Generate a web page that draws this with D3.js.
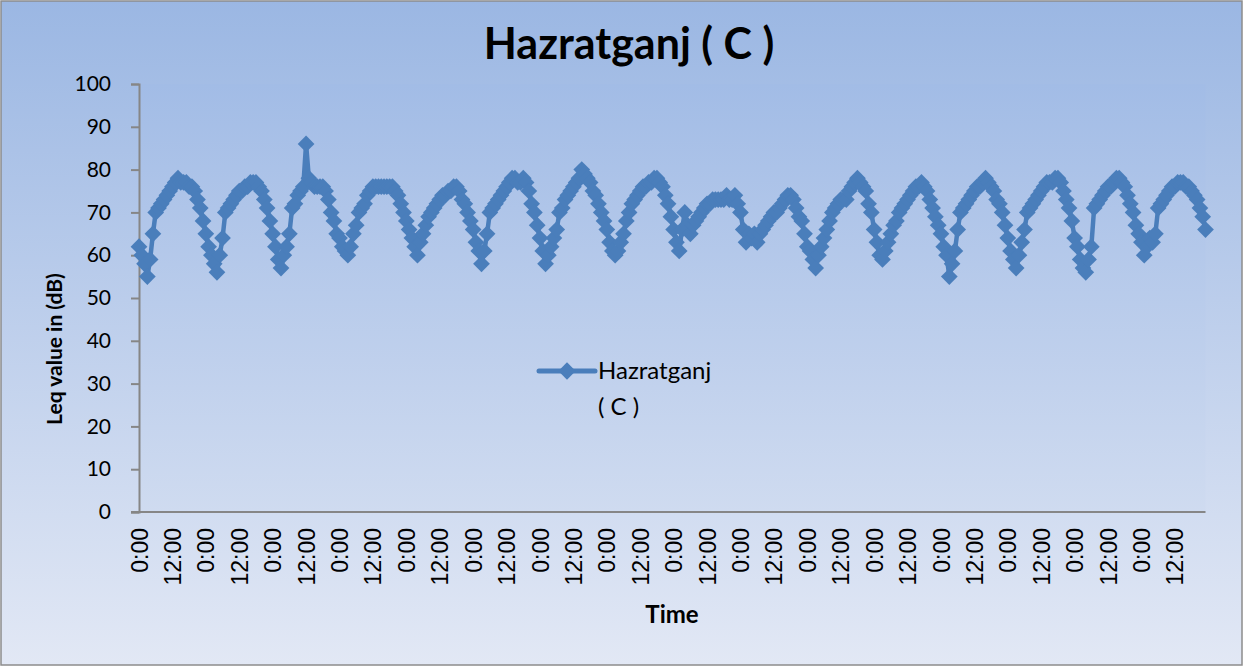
<!DOCTYPE html>
<html>
<head>
<meta charset="utf-8">
<script src="https://cdn.jsdelivr.net/npm/d3@7"></script>
<style>
  html, body { margin: 0; padding: 0; background: #ffffff; }
  svg { display: block; }
</style>
</head>
<body>
<div id="chart"></div>
<script>
/********/
/* data */
/********/

const chartTitle = "Hazratganj ( C )";
const seriesName = "Hazratganj ( C )";
const yTitle = "Leq value in (dB)";
const xTitle = "Time";
const yTicks = [0, 10, 20, 30, 40, 50, 60, 70, 80, 90, 100];
const dayCount = 16;
const hoursPerDay = 24;
const labelEvery = 12;

// hourly Leq readings, one row per day, starting 0:00
const leqValues = [
  62, 60, 58, 55, 59, 65, 70, 71, 72, 73, 74, 75, 76, 77, 78, 77, 77, 77, 76, 76, 75, 73, 71, 68,
  65, 62, 60, 58, 56, 60, 64, 70, 71, 72, 73, 74, 75, 75, 76, 76, 77, 77, 77, 76, 75, 73, 71, 68,
  65, 62, 59, 57, 60, 62, 65, 71, 72, 74, 75, 76, 86, 78, 77, 76, 76, 76, 76, 75, 73, 70, 68, 65,
  64, 62, 61, 60, 62, 65, 67, 70, 71, 72, 74, 75, 76, 76, 76, 76, 76, 76, 76, 76, 75, 74, 72, 70,
  68, 66, 64, 62, 60, 63, 65, 67, 69, 70, 71, 72, 73, 74, 74, 75, 75, 76, 76, 75, 73, 72, 70, 68,
  66, 63, 61, 58, 61, 65, 70, 71, 72, 73, 74, 75, 76, 77, 78, 78, 77, 77, 78, 77, 75, 72, 70, 67,
  64, 61, 58, 60, 62, 64, 66, 70, 71, 73, 74, 75, 76, 77, 78, 80, 79, 78, 77, 75, 74, 72, 70, 68,
  66, 63, 61, 60, 61, 63, 65, 68, 70, 72, 73, 74, 75, 76, 76, 77, 77, 78, 78, 77, 76, 74, 72, 69,
  66, 63, 61, 66, 70, 67, 65, 67, 68, 69, 70, 71, 72, 72, 73, 73, 73, 73, 73, 74, 73, 73, 74, 72,
  70, 66, 63, 65, 64, 65, 63, 65, 66, 67, 68, 69, 70, 70, 71, 72, 73, 74, 74, 73, 71, 69, 68, 65,
  62, 61, 59, 57, 60, 62, 64, 66, 68, 70, 71, 72, 73, 73, 73, 75, 76, 77, 78, 77, 76, 75, 72, 70,
  66, 63, 60, 59, 61, 63, 65, 67, 68, 70, 71, 72, 73, 74, 75, 76, 76, 77, 76, 75, 73, 71, 69, 67,
  65, 62, 60, 55, 58, 61, 66, 70, 71, 72, 73, 74, 75, 76, 76, 77, 78, 77, 76, 75, 73, 72, 70, 67,
  64, 61, 59, 57, 60, 63, 66, 70, 71, 72, 73, 74, 75, 76, 77, 77, 77, 78, 78, 77, 75, 73, 71, 68,
  64, 62, 59, 57, 56, 59, 62, 71, 72, 73, 74, 75, 76, 76, 77, 78, 78, 77, 76, 74, 72, 70, 67, 65,
  63, 60, 62, 64, 63, 65, 71, 72, 73, 74, 75, 76, 76, 77, 77, 77, 76, 76, 75, 74, 73, 71, 69, 66,
];

// category labels: hour of day for every reading
const hourLabels = d3.range(dayCount * hoursPerDay).map(i => `${i % hoursPerDay}:00`);

/**********/
/* layout */
/**********/

const width = 1243;
const height = 666;
const plot = { left: 139, right: 1205.5, top: 84, bottom: 512 };
const seriesColour = "#4a7ebb";
const axisColour = "#868686";

/********/
/* view */
/********/

function gradient(defs, id, stops) {
  const g = defs
    .append("linearGradient")
    .attr("id", id)
    .attr("x1", 0)
    .attr("y1", 0)
    .attr("x2", 0)
    .attr("y2", 1);
  stops.forEach(([offset, colour]) => {
    g.append("stop").attr("offset", offset).attr("stop-color", colour);
  });
}

function draw() {
  const svg = d3
    .select("#chart")
    .append("svg")
    .attr("width", width)
    .attr("height", height);

  const defs = svg.append("defs");
  gradient(defs, "chart-bg", [["0", "#9bb7e3"], ["1", "#e2e8f5"]]);
  gradient(defs, "plot-bg", [["0", "#a2bce6"], ["1", "#cfdbf0"]]);

  // chart area
  svg
    .append("rect")
    .attr("x", 1)
    .attr("y", 1)
    .attr("width", width - 2)
    .attr("height", height - 2)
    .attr("fill", "url(#chart-bg)")
    .attr("stroke", "#8c8c8c")
    .attr("stroke-width", 1.5);

  const x = d3
    .scalePoint()
    .domain(d3.range(leqValues.length))
    .range([plot.left, plot.right]);
  const y = d3
    .scaleLinear()
    .domain([0, 100])
    .range([plot.bottom, plot.top]);

  // plot area
  svg
    .append("rect")
    .attr("x", plot.left)
    .attr("y", plot.top)
    .attr("width", plot.right - plot.left)
    .attr("height", plot.bottom - plot.top)
    .attr("fill", "url(#plot-bg)");

  // y axis
  const yAxis = svg
    .append("g")
    .attr("transform", `translate(${plot.left},0)`)
    .call(d3.axisLeft(y).tickValues(yTicks).tickSize(8).tickPadding(20));
  yAxis.select(".domain").attr("stroke", axisColour).attr("stroke-width", 2);
  yAxis.selectAll(".tick line").attr("stroke", axisColour).attr("stroke-width", 2);
  yAxis
    .selectAll(".tick text")
    .attr("fill", "#000")
    .attr("font-family", "Lato, 'Open Sans', sans-serif")
    .attr("font-size", 21);

  // x axis
  const xAxis = svg
    .append("g")
    .attr("transform", `translate(0,${plot.bottom})`)
    .call(
      d3
        .axisBottom(x)
        .tickValues(x.domain().filter(i => i % labelEvery === 0))
        .tickFormat(i => hourLabels[i])
        .tickSize(0)
        .tickSizeOuter(0),
    );
  xAxis
    .select(".domain")
    .attr("stroke", axisColour)
    .attr("stroke-width", 2)
    .attr("d", `M${plot.left - 8},0H${plot.right}`);
  xAxis
    .selectAll(".tick text")
    .attr("fill", "#000")
    .attr("font-family", "'Liberation Sans', Arial, sans-serif")
    .attr("font-size", 23)
    .attr("text-anchor", "end")
    .attr("dy", "0.35em")
    .attr("transform", "translate(0,16) rotate(-90)")
    .attr("y", 0)
    .attr("x", 0);

  // series
  const line = d3
    .line()
    .x((d, i) => x(i))
    .y(d => y(d));

  svg
    .append("path")
    .datum(leqValues)
    .attr("d", line)
    .attr("fill", "none")
    .attr("stroke", seriesColour)
    .attr("stroke-width", 4.5)
    .attr("stroke-linejoin", "round");

  const marker = d3.symbol(d3.symbolSquare, 140);
  svg
    .append("g")
    .selectAll("path")
    .data(leqValues)
    .enter()
    .append("path")
    .attr("d", marker)
    .attr("transform", (d, i) => `translate(${x(i)},${y(d)}) rotate(45)`)
    .attr("fill", seriesColour);

  // titles
  svg
    .append("text")
    .attr("x", 629)
    .attr("y", 59)
    .attr("text-anchor", "middle")
    .attr("font-family", "Lato, 'Open Sans', sans-serif")
    .attr("font-weight", "bold")
    .attr("font-size", 43)
    .text(chartTitle);

  svg
    .append("text")
    .attr("transform", "translate(62,349) rotate(-90)")
    .attr("text-anchor", "middle")
    .attr("font-family", "Lato, 'Open Sans', sans-serif")
    .attr("font-weight", "bold")
    .attr("font-size", 21)
    .text(yTitle);

  svg
    .append("text")
    .attr("x", 672)
    .attr("y", 623)
    .attr("text-anchor", "middle")
    .attr("font-family", "Lato, 'Open Sans', sans-serif")
    .attr("font-weight", "bold")
    .attr("font-size", 24)
    .text(xTitle);

  // legend
  const legend = svg.append("g").attr("transform", "translate(537,371)");
  legend
    .append("line")
    .attr("x1", 2)
    .attr("x2", 58)
    .attr("stroke", seriesColour)
    .attr("stroke-width", 5)
    .attr("stroke-linecap", "round");
  legend
    .append("path")
    .attr("d", d3.symbol(d3.symbolSquare, 150))
    .attr("transform", "translate(30,0) rotate(45)")
    .attr("fill", seriesColour);
  const words = seriesName.split(/ (?=\()/);
  legend
    .append("text")
    .attr("x", 61)
    .attr("y", 8)
    .attr("font-family", "Lato, 'Open Sans', sans-serif")
    .attr("font-size", 24)
    .selectAll("tspan")
    .data(words)
    .enter()
    .append("tspan")
    .attr("x", 61)
    .attr("dy", (d, i) => (i === 0 ? 0 : 36))
    .text(d => d);
}

draw();
</script>
</body>
</html>
